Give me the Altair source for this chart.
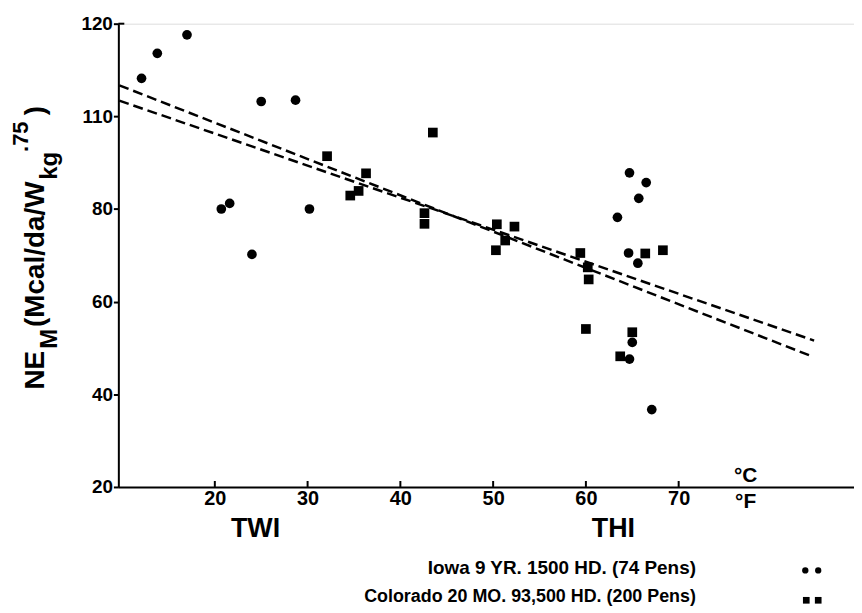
import altair as alt
import pandas as pd

FONT = "Liberation Sans"

# Iowa (circles)
iowa_x = [12.1, 13.8, 17.0, 25.0, 28.7, 20.7, 21.6, 24.0, 30.2,
          64.7, 66.5, 65.7, 63.4, 64.6, 65.6, 65.0, 64.7, 67.1]
iowa_y = [108.2, 113.6, 117.6, 103.2, 103.5, 80.0, 81.2, 70.2, 80.0,
          87.8, 85.7, 82.3, 78.2, 70.5, 68.3, 51.2, 47.6, 36.7]

# Colorado (squares)
colo_x = [32.1, 34.6, 35.5, 36.3, 42.6, 42.6, 43.5, 50.4, 52.3, 51.3, 50.3,
          59.4, 60.2, 60.3, 66.4, 68.3, 60.0, 65.0, 63.7]
colo_y = [91.4, 82.9, 83.9, 87.7, 79.1, 76.8, 96.5, 76.7, 76.2, 73.2, 71.1,
          70.5, 67.4, 64.8, 70.4, 71.1, 54.1, 53.4, 48.2]

# regression lines (end points)
line_a_x = [9.7, 84.1]
line_a_y = [106.7, 48.4]
line_b_x = [9.7, 84.6]
line_b_y = [103.4, 51.6]

x_ticks = [20, 30, 40, 50, 60, 70]
y_ticks = [20, 40, 60, 80, 100, 120]
y_tick_labels = ["20", "40", "60", "80", "110", "120"]

W, H = 740, 466

xs = alt.Scale(domain=[9.6, 88.9], nice=False, zero=False)
ys = alt.Scale(domain=[20, 120], nice=False, zero=False)

label_expr = " : ".join(
    [f"datum.value == {v} ? '{l}'" for v, l in zip(y_ticks, y_tick_labels)]
) + " : datum.label"

iowa = pd.DataFrame({"x": iowa_x, "y": iowa_y})
colo = pd.DataFrame({"x": colo_x, "y": colo_y})
lines = pd.DataFrame({
    "x": line_a_x + line_b_x,
    "y": line_a_y + line_b_y,
    "g": ["a", "a", "b", "b"],
})

xenc = alt.X("x:Q", scale=xs, axis=alt.Axis(
    values=x_ticks, ticks=False, grid=False, domainColor="black", domainWidth=2,
    labelFont=FONT, labelFontWeight="bold", labelFontSize=20, labelColor="black",
    labelPadding=2, title=None, labelFlush=False))
yenc = alt.Y("y:Q", scale=ys, axis=alt.Axis(
    values=y_ticks, grid=False, domainColor="black", domainWidth=2,
    tickColor="black", tickWidth=2, tickSize=5,
    labelFont=FONT, labelFontWeight="bold", labelFontSize=19, labelColor="black",
    labelPadding=1, labelExpr=label_expr, title=None, labelFlush=False))

pts_i = alt.Chart(iowa).mark_point(shape="circle", filled=True, color="black",
                                    size=95, opacity=1).encode(x=xenc, y=yenc)
pts_c = alt.Chart(colo).mark_point(shape="square", filled=True, color="black",
                                    size=95, opacity=1).encode(x="x:Q", y="y:Q")
reg = alt.Chart(lines).mark_line(color="black", strokeWidth=2.5,
                                 strokeDash=[10, 5]).encode(
    x="x:Q", y="y:Q", detail="g:N")

ticks = alt.Chart(pd.DataFrame({"x": x_ticks})).mark_rule(
    color="black", strokeWidth=2).encode(
    x="x:Q", y=alt.value(H), y2=alt.value(H - 6))


def txt(text, x, y, size, align="center", baseline="middle", angle=0):
    return alt.Chart(pd.DataFrame({"t": [text]})).mark_text(
        font=FONT, fontWeight="bold", fontSize=size, align=align,
        baseline=baseline, angle=angle, color="black").encode(
        x=alt.value(x), y=alt.value(y), text="t:N")


annots = [
    txt("TWI", 138, 508, 27),
    txt("THI", 498, 508, 27),
    txt("°C", 631, 455, 21),
    txt("°F", 631, 481, 21),
    txt("Iowa 9 YR. 1500 HD. (74 Pens)", 581, 548, 19, align="right"),
    txt("Colorado 20 MO. 93,500 HD. (200 Pens)", 581, 577, 18, align="right"),
    # y title pieces (rotated)
    txt("NE", -83, 368, 28, align="left", angle=270),
    txt("M", -69, 327, 24, align="left", angle=270),
    txt("(Mcal/da/W", -83, 305, 28, align="left", angle=270),
    txt("kg", -69, 157, 24, align="left", angle=270),
    txt(".75", -98, 129, 22, align="left", angle=270),
    txt(")", -83, 92, 28, align="left", angle=270),
]

leg_c = alt.Chart(pd.DataFrame({"px": [691, 704]})).mark_point(
    shape="circle", filled=True, color="black", size=40, opacity=1).encode(
    x=alt.X("px:Q", scale=None), y=alt.value(550))
leg_s = alt.Chart(pd.DataFrame({"px": [692, 704]})).mark_point(
    shape="square", filled=True, color="black", size=45, opacity=1).encode(
    x=alt.X("px:Q", scale=None), y=alt.value(580))

top_hook = alt.Chart(pd.DataFrame({"y": [120]})).mark_rule(
    color="black", strokeWidth=2).encode(
    y="y:Q", x=alt.value(0), x2=alt.value(6))

chart = alt.layer(pts_i, pts_c, reg, ticks, top_hook, leg_c, leg_s, *annots).properties(
    width=W, height=H,
    autosize=alt.AutoSizeParams(type="none"),
    padding={"left": 111, "top": 14, "right": 0, "bottom": 125},
).configure_view(stroke=None).configure(background="white")

chart.save("out.html", embed_options={"renderer": "svg", "actions": False})
